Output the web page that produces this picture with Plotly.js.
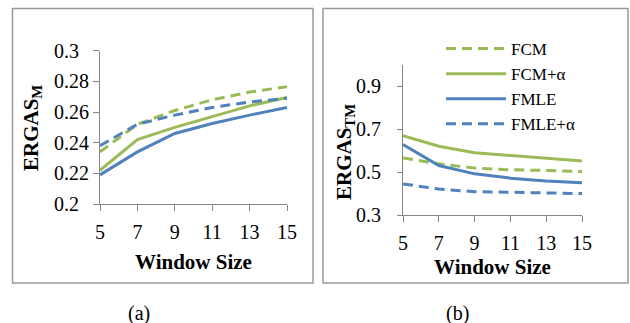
<!DOCTYPE html>
<html><head><meta charset="utf-8">
<script src="https://cdn.plot.ly/plotly-3.0.1.min.js"></script>
<style>html,body{margin:0;padding:0;background:#fff;}#chart{width:630px;height:323px;}</style>
</head><body><div id="chart"></div>
<script>
const windowSizes = [5, 7, 9, 11, 13, 15];
const seriesNames = ['FCM', 'FCM+α', 'FMLE', 'FMLE+α'];
// (a) ERGAS_M
const fcmM      = [0.234, 0.252, 0.261, 0.268, 0.273, 0.2765];
const fcmAlphaM = [0.222, 0.242, 0.250, 0.257, 0.264, 0.2695];
const fmleM     = [0.219, 0.234, 0.246, 0.2525, 0.258, 0.263];
const fmleAlphaM= [0.238, 0.252, 0.258, 0.263, 0.2665, 0.269];
// (b) ERGAS_TM
const fcmTM      = [0.566, 0.539, 0.519, 0.511, 0.508, 0.503];
const fcmAlphaTM = [0.670, 0.621, 0.591, 0.578, 0.565, 0.552];
const fmleTM     = [0.629, 0.531, 0.492, 0.472, 0.459, 0.451];
const fmleAlphaTM= [0.445, 0.421, 0.409, 0.405, 0.401, 0.400];
const xTicks = [5, 7, 9, 11, 13, 15];
const yTicksA = [0.2, 0.22, 0.24, 0.26, 0.28, 0.3];
const yTickTextA = ['0.2\u00a0\u00a0', '0.22', '0.24', '0.26', '0.28', '0.3\u00a0\u00a0'];
const yTicksB = [0.3, 0.5, 0.7, 0.9];

const GREEN = '#9BBB59', BLUE = '#4F81BD';
const DASH = '10px,6px';
const styles = [
  {color: GREEN, dash: DASH},
  {color: GREEN, dash: 'solid'},
  {color: BLUE, dash: 'solid'},
  {color: BLUE, dash: DASH}
];
const dataA = [fcmM, fcmAlphaM, fmleM, fmleAlphaM];
const dataB = [fcmTM, fcmAlphaTM, fmleTM, fmleAlphaTM];
const traces = [];
dataA.forEach((ys, i) => traces.push({
  x: windowSizes, y: ys, type: 'scatter', mode: 'lines', name: seriesNames[i],
  xaxis: 'x', yaxis: 'y', showlegend: false,
  line: {color: styles[i].color, dash: styles[i].dash, width: 3}
}));
dataB.forEach((ys, i) => traces.push({
  x: windowSizes, y: ys, type: 'scatter', mode: 'lines', name: seriesNames[i],
  xaxis: 'x2', yaxis: 'y2', showlegend: true,
  line: {color: styles[i].color, dash: styles[i].dash, width: 3}
}));

const W = 630, H = 323;
const px = v => v / W, py = v => 1 - v / H;
const F = 'Liberation Serif';
function ax(extra) {
  return Object.assign({
    showgrid: false, zeroline: false, showline: true, linecolor: '#868686', linewidth: 1,
    ticks: 'outside', ticklen: 6, tickcolor: '#868686',
    tickfont: {family: F, size: 20, color: '#000'}, fixedrange: true
  }, extra);
}
const layout = {
  width: W, height: H, margin: {l: 0, r: 0, t: 0, b: 0},
  paper_bgcolor: '#fff', plot_bgcolor: 'rgba(0,0,0,0)',
  font: {family: F, color: '#000', size: 20},
  xaxis: ax({domain: [px(100), px(287)], range: [5, 15], tickvals: xTicks, anchor: 'y',
    ticklabelstandoff: 4,
    title: {text: '<b>Window Size</b>', font: {family: F, size: 21}, standoff: 12}}),
  yaxis: ax({domain: [py(204), py(50.7)], range: [0.2, 0.3], tickvals: yTicksA, ticktext: yTickTextA, anchor: 'x'}),
  xaxis2: ax({domain: [px(403), px(582)], range: [5, 15], tickvals: xTicks, anchor: 'y2',
    ticklabelstandoff: 4,
    title: {text: '<b>Window Size</b>', font: {family: F, size: 21}, standoff: 6}}),
  yaxis2: ax({domain: [py(215), py(65)], range: [0.3, 1.0], tickvals: yTicksB, anchor: 'x2',
    ticklen: 5, ticklabelstandoff: 12}),
  showlegend: true,
  legend: {x: px(441), y: py(31), xanchor: 'left', yanchor: 'top', bgcolor: 'rgba(0,0,0,0)',
    font: {family: F, size: 17, color: '#000'}, tracegroupgap: 0, itemwidth: 60},
  shapes: [
    {type: 'rect', xref: 'paper', yref: 'paper', x0: px(12.5), x1: px(313), y0: py(283), y1: py(8.5), line: {color: '#999', width: 1.5}},
    {type: 'rect', xref: 'paper', yref: 'paper', x0: px(323), x1: px(628), y0: py(283), y1: py(8.5), line: {color: '#999', width: 1.5}}
  ],
  annotations: [
    {xref: 'paper', yref: 'paper', x: px(32), y: py(128), xanchor: 'center', yanchor: 'middle', text: '<b>ERGAS<sub>M</sub></b>', textangle: -90, showarrow: false, font: {family: F, size: 21}},
    {xref: 'paper', yref: 'paper', x: px(345), y: py(152), xanchor: 'center', yanchor: 'middle', text: '<b>ERGAS<sub>TM</sub></b>', textangle: -90, showarrow: false, font: {family: F, size: 21}},
    {xref: 'paper', yref: 'paper', x: px(139), y: py(313), xanchor: 'center', yanchor: 'middle', text: '(a)', showarrow: false, font: {family: F, size: 20}},
    {xref: 'paper', yref: 'paper', x: px(457), y: py(313), xanchor: 'center', yanchor: 'middle', text: '(b)', showarrow: false, font: {family: F, size: 20}}
  ]
};
Plotly.newPlot('chart', traces, layout, {staticPlot: true, displayModeBar: false});
</script></body></html>
